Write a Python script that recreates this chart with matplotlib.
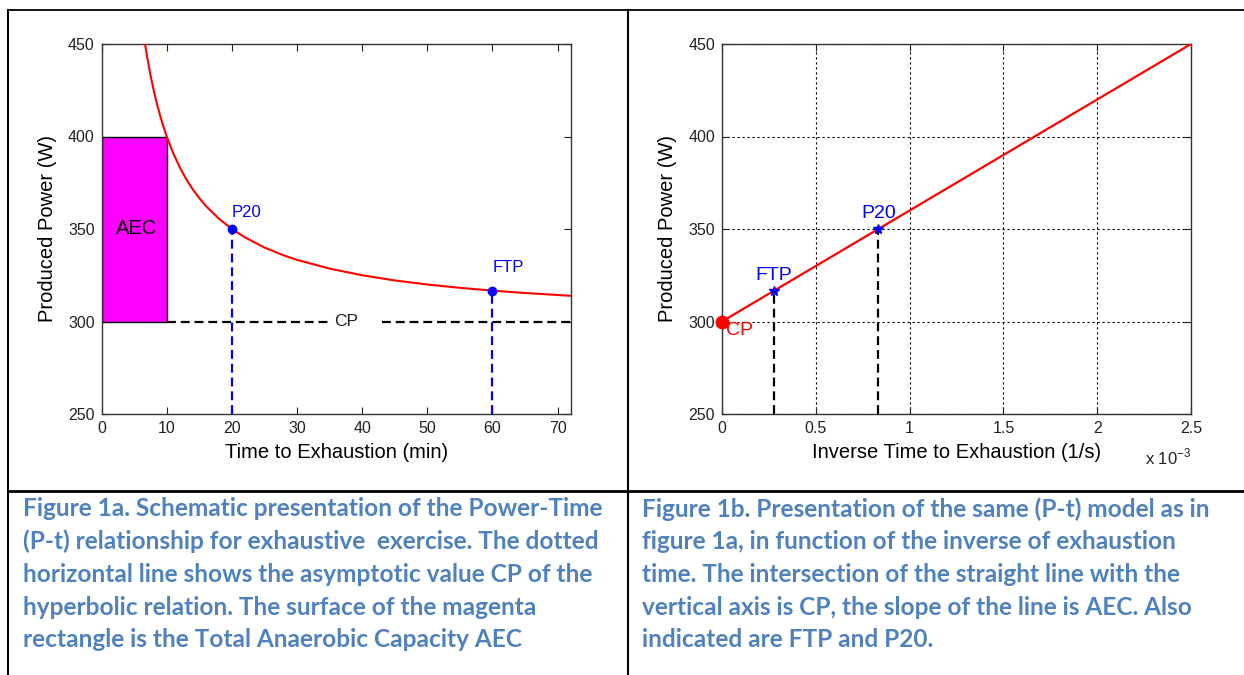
# Power-time (P-t) model: hyperbola vs. inverse time, with the figure captions underneath
import numpy as np
import matplotlib.pyplot as plt
from matplotlib.lines import Line2D

plt.rcParams['font.family'] = ['Liberation Sans', 'DejaVu Sans']
plt.rcParams['mathtext.fontset'] = 'custom'
plt.rcParams['mathtext.rm'] = 'Liberation Sans'

# fig 1a: hyperbolic curve (min, W)
t_curve = [6.67, 7, 7.5, 8, 8.5, 9, 9.5, 10, 11, 12, 13, 14, 15, 16, 18, 20, 22,
           25, 28, 30, 35, 40, 45, 50, 55, 60, 65, 72]
p_curve = [450, 442.9, 433.3, 425, 417.6, 411.1, 405.3, 400, 390.9, 383.3, 376.9,
           371.4, 366.7, 362.5, 355.6, 350, 345.5, 340, 335.7, 333.3, 328.6, 325,
           322.2, 320, 318.2, 316.7, 315.4, 313.9]
cp = 300
aec_t = 10
aec_top = 400
cp_segments = [(10, 35), (43, 72)]
pt_names = ['P20', 'FTP']
pt_t = [20, 60]
pt_p = [350, 316.7]

# fig 1b: straight line vs inverse time (x in 1e-3 1/s)
inv_x = [0, 2.5]
inv_p = [300, 450]
pt_inv = [0.833, 0.278]

caption_a = ["Figure 1a. Schematic presentation of the Power-Time",
             "(P-t) relationship for exhaustive  exercise. The dotted",
             "horizontal line shows the asymptotic value CP of the",
             "hyperbolic relation. The surface of the magenta",
             "rectangle is the Total Anaerobic Capacity AEC"]
caption_b = ["Figure 1b. Presentation of the same (P-t) model as in",
             "figure 1a, in function of the inverse of exhaustion",
             "time. The intersection of the straight line with the",
             "vertical axis is CP, the slope of the line is AEC. Also",
             "indicated are FTP and P20."]

W, H = 1244, 675
fig = plt.figure(figsize=(W / 100, H / 100), dpi=100)
fig.patch.set_facecolor('white')

ax1 = fig.add_axes([101.6 / W, 1 - 414 / H, 469 / W, 370 / H])
ax2 = fig.add_axes([722 / W, 1 - 414 / H, 469 / W, 370 / H])

for ax in (ax1, ax2):
    ax.set_ylim(250, 450)
    ax.set_yticks([250, 300, 350, 400, 450])
    ax.tick_params(direction='in', top=True, right=True, length=5, width=0.8,
                   labelsize=11.5, colors='#222222', pad=5)
    for s in ax.spines.values():
        s.set_color('#333333')
        s.set_linewidth(1.0)
    ax.set_ylabel('Produced Power (W)', fontsize=14.5, labelpad=8)

# ---- fig 1a
ax1.set_xlim(0, 72)
ax1.set_xticks(range(0, 71, 10))
ax1.bar(aec_t / 2, aec_top - cp, width=aec_t, bottom=cp, color='#FF00FF',
        edgecolor='black', linewidth=1.0, zorder=2)
ax1.text(5.4, 350, 'AEC', fontsize=14.5, ha='center', va='center', zorder=3)
for a, b in cp_segments:
    ax1.plot([a, b], [cp, cp], color='black', lw=1.6, dashes=(4, 2.2), zorder=2)
ax1.text(37.5, cp, 'CP', fontsize=12.5, ha='center', va='center', color='#222222')
ax1.vlines(pt_t, 250, pt_p, colors='blue', linestyles=(0, (4, 2.2)), lw=1.6, zorder=3)
ax1.plot(t_curve, p_curve, color='red', lw=1.5, zorder=4)
ax1.plot(pt_t, pt_p, 'o', color='blue', ms=6, zorder=5)
ax1.text(pt_t[0], 359, pt_names[0], color='blue', fontsize=12, ha='left', va='center')
ax1.text(pt_t[1], 329, pt_names[1], color='blue', fontsize=12, ha='left', va='center')
ax1.set_xlabel('Time to Exhaustion (min)', fontsize=14.5, labelpad=5)

# ---- fig 1b
ax2.set_xlim(0, 2.5)
ax2.set_xticks([0, 0.5, 1, 1.5, 2, 2.5])
ax2.set_xticklabels(['0', '0.5', '1', '1.5', '2', '2.5'])
ax2.grid(True, color='black', linestyle=(0, (2, 2.5)), lw=0.8)
ax2.set_axisbelow(True)
ax2.vlines(pt_inv, 250, pt_p, colors='black', linestyles=(0, (4, 2.2)), lw=1.6, zorder=3)
ax2.plot(inv_x, inv_p, color='red', lw=1.6, zorder=4)
ax2.plot(pt_inv, pt_p, '*', color='blue', ms=7, zorder=5)
ax2.plot(inv_x[0], inv_p[0], 'o', color='red', ms=9, clip_on=False, zorder=6)
ax2.text(pt_inv[0], 354, pt_names[0], color='blue', fontsize=14, ha='center', va='bottom')
ax2.text(pt_inv[1], 320, pt_names[1], color='blue', fontsize=14, ha='center', va='bottom')
ax2.text(0.02, 295, 'CP', color='red', fontsize=14, ha='left', va='center')
ax2.set_xlabel('Inverse Time to Exhaustion (1/s)', fontsize=14.5, labelpad=5)
ax2.text(1.0, -0.135, r'x 10$^{-3}$', transform=ax2.transAxes, fontsize=12,
         ha='right', va='baseline', color='#222222')

# ---- table borders
def fline(x, y, lw):
    fig.add_artist(Line2D([v / W for v in x], [1 - v / H for v in y],
                          color='black', lw=lw, transform=fig.transFigure))

fline([8, W], [9.8, 9.8], 1.3)
fline([8.3, 8.3], [9.8, H], 1.5)
fline([628, 628], [9.8, H], 1.5)
fline([8, W], [491, 491], 2.0)

# ---- captions
for i, line in enumerate(caption_a):
    fig.text(23 / W, 1 - (509 + i * 32.7) / H, line, fontsize=17.6, fontweight='bold',
             family='Lato', color='#4F81BD', ha='left', va='center')
for i, line in enumerate(caption_b):
    fig.text(642 / W, 1 - (509 + i * 32.7) / H, line, fontsize=17.6, fontweight='bold',
             family='Lato', color='#4F81BD', ha='left', va='center')

fig.savefig('out.png', dpi=100, facecolor='white')
